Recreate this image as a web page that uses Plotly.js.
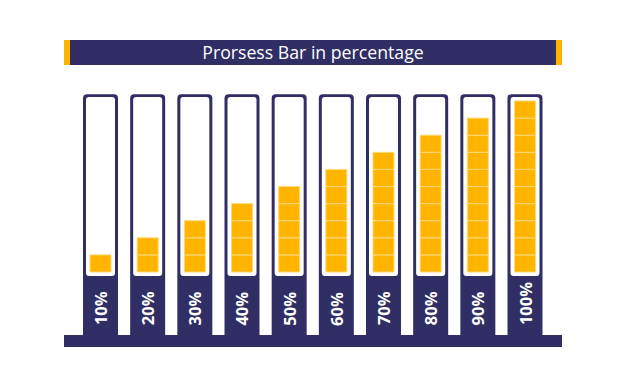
<!DOCTYPE html>
<html>
<head>
<meta charset="utf-8">
<script src="https://cdn.plot.ly/plotly-3.0.1.min.js"></script>
<style>html,body{margin:0;padding:0;background:#fff;}#chart{width:626px;height:391px;}</style>
</head>
<body>
<div id="chart"></div>
<script>
// ---- data ----
var categories = ['10%', '20%', '30%', '40%', '50%', '60%', '70%', '80%', '90%', '100%'];
var values = [10, 20, 30, 40, 50, 60, 70, 80, 90, 100];
var cellSize = 10;
var titleText = 'Prorsess Bar in percentage';

// ---- styles ----
var NAVY = '#312e65';
var ORANGE = '#ffb400';
var SEP = '#ffd877';

var traces = [];
// outer navy column (tube frame)
traces.push({
  type: 'bar', x: categories, y: categories.map(function () { return 144; }),
  base: categories.map(function () { return -40; }),
  width: 0.742, marker: {color: NAVY, cornerradius: 4, line: {width: 0}},
  hoverinfo: 'skip', showlegend: false
});
// inner white tube
traces.push({
  type: 'bar', x: categories, y: categories.map(function () { return 104.6; }),
  base: categories.map(function () { return -2.3; }),
  width: 0.615, marker: {color: '#ffffff', cornerradius: 3, line: {width: 0}},
  hoverinfo: 'skip', showlegend: false
});
// orange cells
var nCells = 100 / cellSize;
for (var k = 0; k < nCells; k++) {
  traces.push({
    type: 'bar', x: categories,
    y: values.map(function (v) { return v >= (k + 1) * cellSize ? cellSize : null; }),
    base: values.map(function () { return k * cellSize; }),
    width: 0.445,
    marker: {color: ORANGE, line: {color: SEP, width: 1}},
    hoverinfo: 'skip', showlegend: false
  });
}

var annotations = categories.map(function (c) {
  return {
    x: c, y: -32.5, xref: 'x', yref: 'y', text: c, showarrow: false,
    textangle: -90, xanchor: 'center', yanchor: 'bottom',
    font: {family: 'Open Sans', size: 16.5, color: '#ffffff', weight: 'bold'}
  };
});

var H = 391;
function py(p) { return 1 - p / H; }
var shapes = [
  // base bar
  {type: 'rect', xref: 'paper', yref: 'paper', x0: 64 / 626, x1: 562 / 626, y0: py(347), y1: py(335),
   fillcolor: NAVY, line: {width: 0}, layer: 'below'},
  // title bar orange caps
  {type: 'rect', xref: 'paper', yref: 'paper', x0: 64 / 626, x1: 562 / 626, y0: py(65), y1: py(40),
   fillcolor: ORANGE, line: {width: 0}, layer: 'below'},
  {type: 'rect', xref: 'paper', yref: 'paper', x0: 70 / 626, x1: 556 / 626, y0: py(65), y1: py(40),
   fillcolor: NAVY, line: {width: 0}, layer: 'below'}
];

var layout = {
  width: 626, height: 391,
  margin: {l: 0, r: 0, t: 0, b: 0, pad: 0},
  paper_bgcolor: '#ffffff', plot_bgcolor: '#ffffff',
  barmode: 'overlay',
  showlegend: false,
  title: {text: titleText, x: 0.5, xanchor: 'center', y: py(52.5), yanchor: 'middle',
          font: {family: 'Open Sans', size: 17.7, color: '#ffffff'}},
  xaxis: {type: 'category', range: [-2.1307, 11.1413], showgrid: false, zeroline: false,
          showticklabels: false, ticks: '', showline: false, fixedrange: true},
  yaxis: {range: [-69.59, 159.06], showgrid: false, zeroline: false,
          showticklabels: false, ticks: '', showline: false, fixedrange: true},
  shapes: shapes,
  annotations: annotations
};

Plotly.newPlot('chart', traces, layout, {staticPlot: true, displayModeBar: false});
</script>
</body>
</html>
